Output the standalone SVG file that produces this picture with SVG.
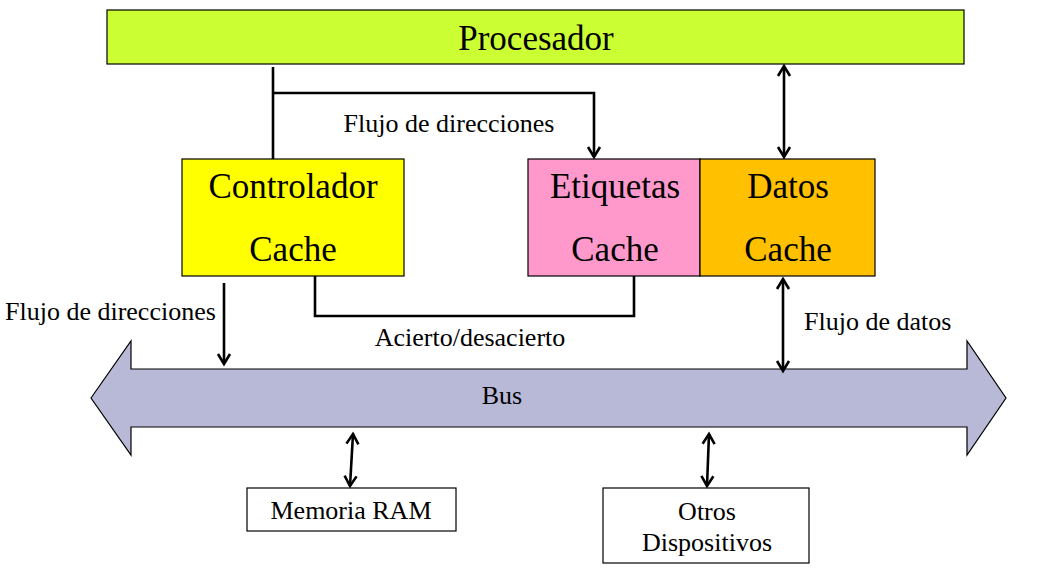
<svg xmlns="http://www.w3.org/2000/svg" width="1044" height="588" viewBox="0 0 1044 588">
<style>
.box{stroke:#000;stroke-width:1.2}
.big{font-family:"Liberation Serif","Times New Roman",serif;font-size:35px;fill:#000;text-anchor:middle}
.sm{font-family:"Liberation Serif","Times New Roman",serif;font-size:26px;fill:#000}
.mid{text-anchor:middle}
.ln{fill:none;stroke:#000;stroke-width:2.6}
</style>
<defs>
<marker id="ah" markerUnits="userSpaceOnUse" markerWidth="20" markerHeight="20" refX="0" refY="0" orient="auto-start-reverse" overflow="visible">
<path d="M -10 -6 L 0 0 L -10 6" fill="none" stroke="#000" stroke-width="2.6" stroke-linejoin="miter"/>
</marker>
</defs>
<rect width="1044" height="588" fill="#fff"/>
<g id="procesador">
<rect class="box" x="107" y="10" width="857" height="54" fill="#CCFF33"/>
<text class="big" x="536" y="50">Procesador</text>
</g>
<g id="controlador">
<rect class="box" x="182" y="159" width="222" height="117" fill="#FFFF00"/>
<text class="big" x="293" y="198">Controlador</text>
<text class="big" x="293" y="261">Cache</text>
</g>
<g id="etiquetas">
<rect class="box" x="528" y="159" width="172" height="117" fill="#FF99CC"/>
<text class="big" x="615" y="198">Etiquetas</text>
<text class="big" x="615" y="261">Cache</text>
</g>
<g id="datos">
<rect class="box" x="700" y="159" width="175" height="117" fill="#FFC000"/>
<text class="big" x="788" y="198">Datos</text>
<text class="big" x="788" y="261">Cache</text>
</g>
<g id="bus">
<path class="box" d="M 91 398 L 131 341 L 131 369 L 967 369 L 967 341 L 1006 398 L 967 455 L 967 427 L 131 427 L 131 455 Z" fill="#B8B9D7"/>
<text class="sm mid" x="502" y="404">Bus</text>
</g>
<g id="memoria">
<rect class="box" x="247" y="488" width="209" height="43" fill="#fff"/>
<text class="sm mid" x="351" y="519">Memoria RAM</text>
</g>
<g id="otros">
<rect class="box" x="603" y="488" width="206" height="75" fill="#fff"/>
<text class="sm mid" x="707" y="520">Otros</text>
<text class="sm mid" x="707" y="551">Dispositivos</text>
</g>
<g id="connectors">
<path class="ln" d="M 273 67 L 273 159"/>
<path class="ln" d="M 273 93 L 594 93 L 594 157" marker-end="url(#ah)"/>
<path class="ln" d="M 784 66 L 784 157" marker-start="url(#ah)" marker-end="url(#ah)"/>
<path class="ln" d="M 224 283 L 224 364" marker-end="url(#ah)"/>
<path class="ln" d="M 315 276 L 315 316 L 634 316 L 634 276"/>
<path class="ln" d="M 783 279 L 783 371" marker-start="url(#ah)" marker-end="url(#ah)"/>
<path class="ln" d="M 353 434 L 350 486" marker-start="url(#ah)" marker-end="url(#ah)"/>
<path class="ln" d="M 709 434 L 707 486" marker-start="url(#ah)" marker-end="url(#ah)"/>
</g>
<g id="labels">
<text class="sm mid" x="449" y="132">Flujo de direcciones</text>
<text class="sm" x="5" y="320">Flujo de direcciones</text>
<text class="sm mid" x="470" y="346">Acierto/desacierto</text>
<text class="sm" x="804" y="330">Flujo de datos</text>
</g>
</svg>
